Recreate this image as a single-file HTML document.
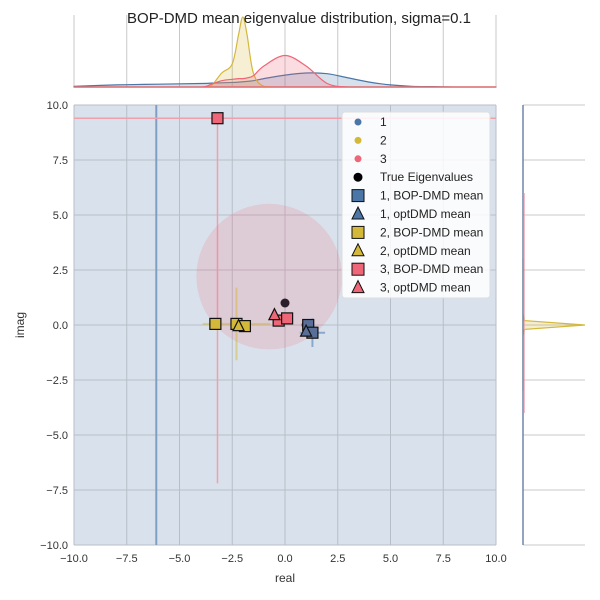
<!DOCTYPE html>
<html><head><meta charset="utf-8"><style>
body{margin:0;background:#fff;}
svg{display:block;font-family:"Liberation Sans",Arial,sans-serif;}
</style></head><body>
<svg id="chart" width="600" height="600" viewBox="0 0 600 600"></svg>
<script>
const xTicks=[-10,-7.5,-5,-2.5,0,2.5,5,7.5,10];
const yTicks=[-10,-7.5,-5,-2.5,0,2.5,5,7.5,10];
const tickLabels=["−10.0","−7.5","−5.0","−2.5","0.0","2.5","5.0","7.5","10.0"];
const trueRe=[0,1.0];
const trueIm=[1.0,0.0];
const bopRe1=[1.1,1.3];
const bopIm1=[0.0,-0.35];
const optRe1=[1.0];
const optIm1=[-0.3];
const bopRe2=[-3.3,-2.3,-1.9];
const bopIm2=[0.05,0.05,-0.05];
const optRe2=[-2.2];
const optIm2=[-0.05];
const bopRe3=[-0.3,0.1,-3.2];
const bopIm3=[0.2,0.3,9.4];
const optRe3=[-0.5];
const optIm3=[0.45];
const circleCx=[-0.75];const circleCy=[2.2];const circleR=[3.45];
const errX2=[-2.3];const errY2=[0.05];const errXw=[1.6];const errYh=[1.65];
const errX1=[1.3];const errY1=[-0.35];const errXw1=[0.6];const errYh1=[0.65];
const topX=[-10,-8,-6,-4,-3.5,-3,-2.5,-2.2,-2,-1.8,-1.5,-1,0,1,2,3,4,5,6,7,8,10];
const topBlue=[0.01,0.03,0.04,0.05,0.055,0.06,0.065,0.07,0.075,0.08,0.09,0.12,0.17,0.2,0.19,0.13,0.07,0.03,0.01,0.005,0,0];
const topYellow=[0,0,0,0,0.02,0.2,0.33,0.75,1.0,0.75,0.2,0.01,0,0,0,0,0,0,0,0,0,0];
const topRed=[0,0,0,0,0.04,0.09,0.11,0.12,0.12,0.13,0.16,0.3,0.45,0.3,0.05,0,0,0,0,0,0,0];
const rightY=[-3,-1,-0.5,-0.2,0,0.2,0.5,1,3];
const rightYellow=[0,0,0,0.02,1.0,0.02,0,0,0];

const NS="http://www.w3.org/2000/svg";
const svg=document.getElementById('chart');
function el(t,a,p){const e=document.createElementNS(NS,t);for(const k in a)e.setAttribute(k,a[k]);(p||svg).appendChild(e);return e;}
const L=74,R=496,T=105,B=545;
const sx=v=>L+(v+10)/20*(R-L);
const sy=v=>B-(v+10)/20*(B-T);
const C1="#4a76a8",C2="#d4b83a",C3="#ee6677";
let e=el('rect',{x:L,y:T,width:R-L,height:B-T,fill:"#d9e2ec"});

xTicks.forEach((t,i)=>{el('line',{x1:sx(t),x2:sx(t),y1:T,y2:B,stroke:"#b8bec8","stroke-width":1});
 const tx=el('text',{x:sx(t),y:B+17,"font-size":11,fill:"#333","text-anchor":"middle"});tx.textContent=tickLabels[i];
 });
yTicks.forEach((t,i)=>{el('line',{x1:L,x2:R,y1:sy(t),y2:sy(t),stroke:"#b8bec8","stroke-width":1});
 const tx=el('text',{x:L-6,y:sy(t)+4,"font-size":11,fill:"#333","text-anchor":"end"});tx.textContent=tickLabels[i];
 });
el('line',{x1:sx(-6.1),x2:sx(-6.1),y1:T,y2:B,stroke:"#7f9ec4","stroke-width":2});
el('line',{x1:L,x2:R,y1:sy(9.4),y2:sy(9.4),stroke:"#f0a0ab","stroke-width":1.5});
el('line',{x1:sx(-3.2),x2:sx(-3.2),y1:sy(9.4),y2:sy(-7.2),stroke:"#f0a0ab","stroke-width":1.5});
e=el('circle',{cx:sx(circleCx[0]),cy:sy(circleCy[0]),r:circleR[0]*(R-L)/20,fill:"#ee6677","fill-opacity":0.18,stroke:"none"});

el('line',{x1:sx(errX2[0]-errXw[0]),x2:sx(errX2[0]+errXw[0]),y1:sy(errY2[0]),y2:sy(errY2[0]),stroke:C2,"stroke-opacity":0.5,"stroke-width":2});
el('line',{x1:sx(errX2[0]),x2:sx(errX2[0]),y1:sy(errY2[0]+errYh[0]),y2:sy(errY2[0]-errYh[0]),stroke:C2,"stroke-opacity":0.5,"stroke-width":2});
el('line',{x1:sx(errX1[0]-errXw1[0]),x2:sx(errX1[0]+errXw1[0]),y1:sy(errY1[0]),y2:sy(errY1[0]),stroke:"#8aa8cc","stroke-width":2});
el('line',{x1:sx(errX1[0]),x2:sx(errX1[0]),y1:sy(errY1[0]+errYh1[0]),y2:sy(errY1[0]-errYh1[0]),stroke:"#8aa8cc","stroke-width":2});
function sq(x,y,c,name){const s=el('rect',{x:x-5.5,y:y-5.5,width:11,height:11,fill:c,stroke:"#111","stroke-width":1.2});
 }
function tri(x,y,c,name){const s=el('path',{d:`M${x},${y-6.5}L${x+5.5,0}${''}`,fill:c});s.remove();
 const p=el('path',{d:`M${x},${y-6.5}L${x+5.5},${y+4.5}L${x-5.5},${y+4.5}Z`,fill:c,stroke:"#111","stroke-width":1.2});
 }
trueRe.forEach((v,i)=>{const c=el('circle',{cx:sx(v),cy:sy(trueIm[i]),r:4.5,fill:"#2a1f2a"});
 });
bopRe2.forEach((v,i)=>sq(sx(v),sy(bopIm2[i]),C2,'bop-mean-2'));
optRe2.forEach((v,i)=>tri(sx(v),sy(optIm2[i]),C2,'opt-mean-2'));
bopRe3.forEach((v,i)=>sq(sx(v),sy(bopIm3[i]),C3,'bop-mean-3'));
optRe3.forEach((v,i)=>tri(sx(v),sy(optIm3[i]),C3,'opt-mean-3'));
bopRe1.forEach((v,i)=>sq(sx(v),sy(bopIm1[i]),"#5a6f98",'bop-mean-1'));
optRe1.forEach((v,i)=>tri(sx(v),sy(optIm1[i]),"#5a6f98",'opt-mean-1'));
let t=el('text',{x:(L+R)/2,y:582,"font-size":12,fill:"#333","text-anchor":"middle"});t.textContent="real";

t=el('text',{x:24,y:(T+B)/2,"font-size":12,fill:"#333","text-anchor":"middle",transform:`rotate(-90 24 ${(T+B)/2})`});t.textContent="imag";

const TB=87,TH=70;
xTicks.forEach(v=>el('line',{x1:sx(v),x2:sx(v),y1:15,y2:TB,stroke:"#c8c8c8"}));
el('line',{x1:L,x2:L,y1:15,y2:TB,stroke:"#c8c8c8"});
el('line',{x1:L,x2:R,y1:TB,y2:TB,stroke:"#c8c8c8"});
function smooth(pts){let d=`M${pts[0][0]},${pts[0][1]}`;
 for(let i=0;i<pts.length-1;i++){const p0=pts[Math.max(0,i-1)],p1=pts[i],p2=pts[i+1],p3=pts[Math.min(pts.length-1,i+2)];
  const c1=[p1[0]+(p2[0]-p0[0])/6,p1[1]+(p2[1]-p0[1])/6],c2=[p2[0]-(p3[0]-p1[0])/6,p2[1]-(p3[1]-p1[1])/6];
  d+=`C${c1[0]},${Math.min(TB,c1[1])} ${c2[0]},${Math.min(TB,c2[1])} ${p2[0]},${p2[1]}`;}
 return d;}
function topKde(arr,c,name){const pts=topX.map((v,i)=>[sx(v),TB-arr[i]*TH]);
 const d=smooth(pts)+`L${sx(topX[topX.length-1])},${TB}L${sx(topX[0])},${TB}Z`;
 const p=el('path',{d,fill:c,"fill-opacity":0.22,stroke:c,"stroke-width":1.2,"stroke-linejoin":"round"});
 }
topKde(topBlue,C1,'top-kde-1');topKde(topYellow,C2,'top-kde-2');topKde(topRed,C3,'top-kde-3');
t=el('text',{x:299,y:23,"font-size":15,fill:"#222","text-anchor":"middle"});t.textContent="BOP-DMD mean eigenvalue distribution, sigma=0.1";

const RL=523,RW=62;
yTicks.forEach(v=>el('line',{x1:RL,x2:585,y1:sy(v),y2:sy(v),stroke:"#c8c8c8"}));
let d=`M${RL},${sy(rightY[0])}`;rightY.forEach((v,i)=>d+=`L${RL+rightYellow[i]*RW},${sy(v)}`);d+=`L${RL},${sy(rightY[rightY.length-1])}Z`;
e=el('path',{d,fill:C2,"fill-opacity":0.25,stroke:C2,"stroke-width":1.2});

el('line',{x1:RL+1.5,x2:RL+1.5,y1:sy(6),y2:sy(-4),stroke:"#f0a0ab","stroke-width":1,"stroke-opacity":0.7});
el('line',{x1:RL,x2:RL,y1:T,y2:B,stroke:"#6f86a8","stroke-width":1.5});
const lg=el('g',{});
el('rect',{x:342,y:112,width:148,height:186,rx:3,fill:"#fff","fill-opacity":0.85,stroke:"#ddd"},lg);
const labels=["1","2","3","True Eigenvalues","1, BOP-DMD mean","1, optDMD mean","2, BOP-DMD mean","2, optDMD mean","3, BOP-DMD mean","3, optDMD mean"];
const cols=[C1,C2,C3,"#000",C1,C1,C2,C2,C3,C3];
labels.forEach((s,i)=>{const y=122+i*18.4,x=358;
 if(i<4)el('circle',{cx:x,cy:y,r:i<3?3.5:4.5,fill:cols[i]},lg);
 else if(i%2==0)el('rect',{x:x-6,y:y-6,width:12,height:12,fill:cols[i],stroke:"#111"},lg);
 else el('path',{d:`M${x},${y-7}L${x+6},${y+5}L${x-6},${y+5}Z`,fill:cols[i],stroke:"#111"},lg);
 const tx=el('text',{x:380,y:y+4,"font-size":12,fill:"#222"},lg);tx.textContent=s;
 });
</script>
</body></html>
